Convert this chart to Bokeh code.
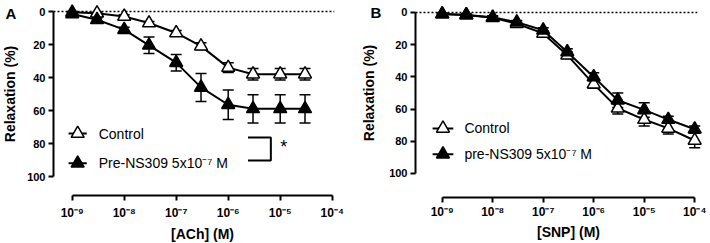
import numpy as np
from bokeh.plotting import figure
from bokeh.layouts import row
from bokeh.models import (Range1d, Whisker, TeeHead, ColumnDataSource, FixedTicker)
from bokeh.embed import file_html
from bokeh.resources import INLINE
from bokeh.core.properties import value

# ---------------- data ----------------
# Panel A: ACh concentration-response
ach_conc = [1e-9, 3e-9, 1e-8, 3e-8, 1e-7, 3e-7, 1e-6, 3e-6, 1e-5, 3e-5]
ach_control = [0.5, 1.0, 3.0, 7.0, 13.0, 21.0, 34.0, 38.0, 38.0, 38.0]
ach_control_err = [0.5, 0.5, 1.0, 1.0, 1.5, 2.0, 3.0, 3.5, 3.5, 3.5]
ach_pre = [1.5, 5.0, 11.0, 20.5, 31.0, 46.0, 56.5, 59.0, 59.0, 59.0]
ach_pre_err = [1.0, 1.0, 1.5, 5.0, 5.0, 8.5, 9.0, 8.5, 8.5, 8.5]

# Panel B: SNP concentration-response
snp_conc = [1e-9, 3e-9, 1e-8, 3e-8, 1e-7, 3e-7, 1e-6, 3e-6, 1e-5, 3e-5, 1e-4]
snp_control = [1.0, 1.5, 3.3, 7.0, 13.0, 26.5, 44.5, 59.5, 66.5, 72.0, 79.5]
snp_control_err = [0.5, 0.5, 1.0, 1.0, 1.5, 2.0, 2.5, 3.5, 4.0, 3.5, 4.5]
snp_pre = [1.0, 1.5, 3.0, 6.0, 11.0, 24.5, 40.0, 54.5, 60.5, 66.5, 72.5]
snp_pre_err = [0.5, 0.5, 1.0, 1.0, 1.5, 2.0, 2.5, 4.5, 4.5, 2.0, 2.0]

x_tick_exponents = [-9, -8, -7, -6, -5, -4]
x_tick_labels = ["10\u207b\u2079", "10\u207b\u2078", "10\u207b\u2077",
                 "10\u207b\u2076", "10\u207b\u2075", "10\u207b\u2074"]
y_ticks = [0, 20, 40, 60, 80, 100]

label_control = "Control"
label_pre_a = "Pre-NS309 5x10\u207b\u2077 M"
label_pre_b = "pre-NS309 5x10\u207b\u2077 M"

FONT = "Liberation Sans"


def make_panel(letter, xlabel, conc, ctrl, ctrl_err, pre, pre_err,
               xr, yr, yaxis_at, xaxis_at, zero_end, x_standoffs, y_title_standoff,
               legend_pos, legend_labels, letter_pos):
    p = figure(width=355, height=243, output_backend="svg",
               toolbar_location=None,
               x_range=Range1d(*xr), y_range=Range1d(*yr),
               min_border_left=0, min_border_right=0,
               min_border_top=0, min_border_bottom=0)
    p.outline_line_color = None
    p.grid.visible = False
    p.background_fill_color = "white"
    p.border_fill_color = "white"

    lx = np.log10(conc)

    # dotted zero line
    p.segment(x0=[yaxis_at], x1=[zero_end], y0=[0], y1=[0], line_color="black",
              line_width=1.5, line_dash="2 2")

    def series(y, err, fill):
        y = np.array(y, dtype=float)
        e = np.array(err, dtype=float)
        src = ColumnDataSource(dict(x=lx, y=y, upper=y + e, lower=y - e))
        p.add_layout(Whisker(source=src, base="x", upper="upper", lower="lower",
                             dimension="height", line_width=1.5, line_color="black",
                             upper_head=TeeHead(size=11, line_width=1.5, line_color="black"),
                             lower_head=TeeHead(size=11, line_width=1.5, line_color="black")))
        p.line("x", "y", source=src, line_width=2, line_color="black")
        p.scatter("x", "y", source=src, marker="triangle", size=13,
                  fill_color=fill, line_color="black", line_width=1.5)

    series(ctrl, ctrl_err, "white")
    series(pre, pre_err, "black")

    # legend drawn with glyphs
    (gx0, gx1, tx, ry1, ry2) = legend_pos
    p.segment(x0=[gx0, gx0], x1=[gx1, gx1], y0=[ry1, ry2], y1=[ry1, ry2],
              line_width=2, line_color="black")
    p.scatter(x=[(gx0 + gx1) / 2] * 2, y=[ry1, ry2], marker="triangle", size=13,
              fill_color=["white", "black"], line_color="black", line_width=1.5)
    p.text(x=[tx, tx], y=[ry1, ry2], text=legend_labels,
           text_font=value(FONT), text_font_size="14px",
           text_baseline="middle", text_align="left", text_color="black")

    # panel letter
    p.text(x=[letter_pos[0]], y=[letter_pos[1]], text=[letter],
           text_font=value(FONT), text_font_style="bold", text_font_size="15px",
           text_baseline="middle", text_align="left", text_color="black")

    # axes (drawn at fixed data locations, detached like the original)
    xa, ya = p.xaxis[0], p.yaxis[0]
    for ax in (xa, ya):
        ax.axis_line_width = 2
        ax.major_tick_line_width = 2
        ax.major_tick_out = 5
        ax.major_tick_in = 0
        ax.minor_tick_line_color = None
        ax.major_label_text_font = FONT
        ax.major_label_text_font_style = "bold"
        ax.major_label_text_font_size = "11px"
        ax.major_label_text_color = "black"
        ax.axis_label_text_font = FONT
        ax.axis_label_text_font_style = "bold"
        ax.axis_label_text_font_size = "14px"
        ax.axis_label_text_color = "black"
    xa.fixed_location = xaxis_at
    ya.fixed_location = yaxis_at
    xa.ticker = FixedTicker(ticks=x_tick_exponents)
    xa.major_label_overrides = {e: t for e, t in zip(x_tick_exponents, x_tick_labels)}
    xa.major_label_text_font_size = "12px"
    xa.bounds = (x_tick_exponents[0], x_tick_exponents[-1])
    xa.axis_label = xlabel
    xa.major_label_standoff = x_standoffs[0]
    xa.axis_label_standoff = x_standoffs[1]
    ya.ticker = FixedTicker(ticks=y_ticks)
    ya.bounds = (y_ticks[0], y_ticks[-1])
    ya.axis_label = "Relaxation (%)"
    ya.major_label_standoff = 3
    ya.axis_label_standoff = y_title_standoff
    return p


pa = make_panel("A", "[ACh] (M)", ach_conc, ach_control, ach_control_err,
                ach_pre, ach_pre_err,
                xr=(-10.379, -3.552), yr=(140.6, -6.667),
                yaxis_at=-9.36, xaxis_at=111.5, zero_end=-3.96,
                x_standoffs=(6, 2), y_title_standoff=6,
                legend_pos=(-9.07, -8.72, -8.49, 74.0, 92.0),
                legend_labels=[label_control, label_pre_a],
                letter_pos=(-10.283, 1.5))

# significance bracket in panel A
pa.line(x=[-5.62, -5.18, -5.18, -5.62], y=[76.4, 76.4, 90.3, 90.3],
        line_width=2, line_color="black")
pa.text(x=[-5.0], y=[82.0], text=["*"], text_font=value(FONT),
        text_font_size="18px", text_baseline="middle", text_align="left")

pb = make_panel("B", "[SNP] (M)", snp_conc, snp_control, snp_control_err,
                snp_pre, snp_pre_err,
                xr=(-10.717, -3.687), yr=(143.48, -7.453),
                yaxis_at=-9.529, xaxis_at=114.9, zero_end=-3.95,
                x_standoffs=(3, 1), y_title_standoff=9,
                legend_pos=(-9.19, -8.78, -8.56, 72.0, 88.0),
                legend_labels=[label_control, label_pre_b],
                letter_pos=(-10.42, 0.3))

layout = row(pa, pb)
open("out.html", "w").write(file_html(layout, INLINE))
